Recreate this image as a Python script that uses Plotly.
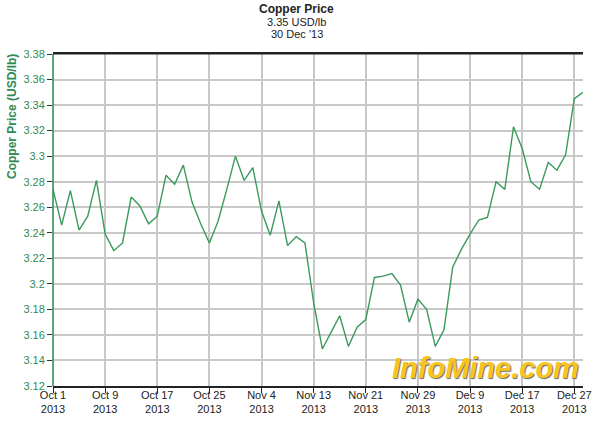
import plotly.graph_objects as go

# Trading-day index positions of tick labels (every 6 trading days)
tick_labels = ["Oct 1<br>2013", "Oct 9<br>2013", "Oct 17<br>2013", "Oct 25<br>2013",
               "Nov 4<br>2013", "Nov 13<br>2013", "Nov 21<br>2013", "Nov 29<br>2013",
               "Dec 9<br>2013", "Dec 17<br>2013", "Dec 27<br>2013"]
tick_index = [0, 6, 12, 18, 24, 30, 36, 42, 48, 54, 60]

prices = [3.274, 3.246, 3.273, 3.242, 3.253, 3.281, 3.239, 3.226, 3.232, 3.268,
          3.261, 3.247, 3.253, 3.285, 3.278, 3.293, 3.264, 3.247, 3.232, 3.249,
          3.274, 3.300, 3.281, 3.291, 3.257, 3.238, 3.265, 3.230, 3.237, 3.232,
          3.185, 3.149, 3.162, 3.175, 3.151, 3.166, 3.172, 3.205, 3.206, 3.208,
          3.199, 3.170, 3.188, 3.180, 3.151, 3.164, 3.213, 3.227, 3.239, 3.250,
          3.252, 3.280, 3.274, 3.323, 3.306, 3.280, 3.274, 3.295, 3.289, 3.301,
          3.345, 3.350]
day_index = list(range(len(prices)))

y_ticks = [3.12, 3.14, 3.16, 3.18, 3.20, 3.22, 3.24, 3.26, 3.28, 3.30, 3.32, 3.34, 3.36, 3.38]
y_tick_text = ["3.12", "3.14", "3.16", "3.18", "3.2", "3.22", "3.24", "3.26", "3.28",
               "3.3", "3.32", "3.34", "3.36", "3.38"]

GREEN = "#2e8b57"
LINE = "#3a9a5c"
FONT = "Liberation Sans, Arial, sans-serif"

fig = go.Figure()
fig.add_trace(go.Scatter(x=day_index, y=prices, mode="lines",
                         line=dict(color=LINE, width=1.4), hoverinfo="skip"))

fig.update_layout(
    width=600, height=424,
    margin=dict(l=53, r=17, t=54, b=38, autoexpand=False),
    paper_bgcolor="white", plot_bgcolor="white",
    showlegend=False,
    font=dict(family=FONT, size=11, color="#222"),
    xaxis=dict(range=[0, 61], tickvals=tick_index, ticktext=tick_labels,
               showgrid=True, gridcolor="#c8c8c8", gridwidth=1.5,
               showline=True, linecolor="#222", linewidth=1.5, mirror=True,
               ticks="outside", ticklen=5, tickcolor="#222",
               ticklabelstandoff=-7,
               tickfont=dict(family=FONT, size=11, color="#222"),
               zeroline=False, fixedrange=True, automargin=False),
    yaxis=dict(range=[3.12, 3.38], tickvals=y_ticks, ticktext=y_tick_text,
               showgrid=True, gridcolor="#c8c8c8", gridwidth=1.5,
               showline=False,
               ticks="outside", ticklen=5, tickcolor="#333",
               tickfont=dict(family=FONT, size=11, color=GREEN),
               zeroline=False, fixedrange=True, automargin=False),
    shapes=[
        dict(type="line", xref="paper", yref="paper", x0=0, x1=0, y0=0, y1=1,
             line=dict(color="#1f8a4c", width=1.5)),
        dict(type="line", xref="paper", yref="paper", x0=0, x1=1, y0=1, y1=1,
             line=dict(color="#222", width=1)),
    ],
    annotations=[
        dict(text="<b>Copper Price</b>", xref="paper", yref="paper",
             x=0.46, y=1 + (54 - 9) / 332, xanchor="center", yanchor="middle",
             showarrow=False, font=dict(family=FONT, size=12, color="#222")),
        dict(text="3.35 USD/lb", xref="paper", yref="paper",
             x=0.46, y=1 + (54 - 22) / 332, xanchor="center", yanchor="middle",
             showarrow=False, font=dict(family=FONT, size=11, color="#222")),
        dict(text="30 Dec '13", xref="paper", yref="paper",
             x=0.46, y=1 + (54 - 34) / 332, xanchor="center", yanchor="middle",
             showarrow=False, font=dict(family=FONT, size=11, color="#222")),
        dict(text="<b>Copper Price (USD/lb)</b>", xref="paper", yref="paper",
             x=(12 - 53) / 530, y=(386 - 117) / 332, xanchor="center", yanchor="middle",
             textangle=-90, showarrow=False,
             font=dict(family=FONT, size=12, color=GREEN)),
        dict(text="<b><i>InfoMine.com</i></b>", xref="paper", yref="paper",
             x=1, y=0, xanchor="right", yanchor="bottom", xshift=-2, yshift=0,
             showarrow=False,
             font=dict(family=FONT, size=29, color="#f7c51e",
                       shadow="1px 1px 1px #666")),
    ],
)

fig.write_html("out.html", config={"displayModeBar": False},
               post_script="document.body.style.margin='0';document.body.style.overflow='hidden';")
